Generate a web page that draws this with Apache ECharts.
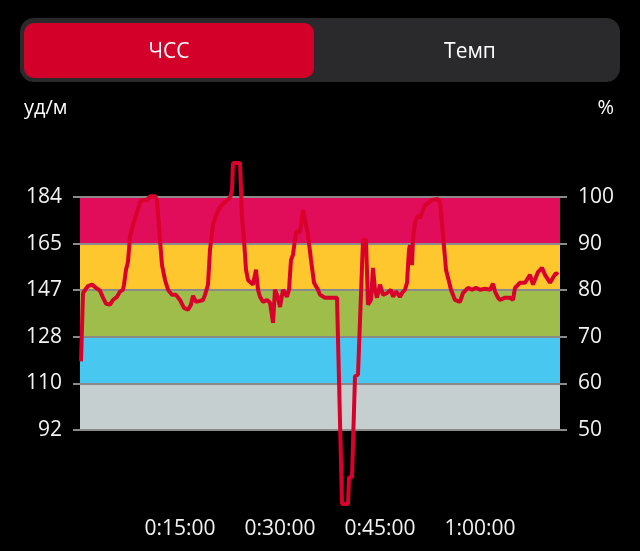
<!DOCTYPE html>
<html>
<head>
<meta charset="utf-8">
<script src="https://cdn.jsdelivr.net/npm/echarts@6/dist/echarts.min.js"></script>
<style>
html,body{margin:0;padding:0;background:#000;}
#c{width:640px;height:551px;}
</style>
</head>
<body>
<div id="c"></div>
<script>
// ---- data ----
const maxHR = 184;
const timeMin = [0.15,0.45,0.75,1.2,1.8,2.4,3.0,3.45,3.9,4.5,4.95,5.55,6.0,6.45,6.6,6.9,7.2,7.5,7.95,8.4,9.0,9.45,10.05,10.5,10.8,11.25,11.55,12.0,12.3,12.75,13.2,13.8,14.4,15.0,15.6,16.2,16.65,16.95,17.4,18.0,18.45,18.75,19.2,19.5,19.95,20.4,21.0,21.6,22.05,22.5,22.8,22.95,24.0,24.3,24.6,24.9,25.2,25.5,25.95,26.4,26.7,27.0,27.45,28.05,28.5,28.95,29.25,29.7,30.0,30.45,31.05,31.35,31.65,31.95,32.4,33.0,33.45,33.75,34.2,34.65,35.1,35.7,36.0,36.75,37.5,38.55,39.3,40.2,40.35,40.8,41.25,41.7,42.45,42.9,43.2,43.65,43.95,44.25,44.55,45.0,45.45,46.05,46.65,46.95,47.4,48.0,48.3,48.75,49.05,49.35,49.5,49.8,49.95,50.25,50.7,51.0,51.45,51.75,52.2,52.8,53.7,54.0,54.45,54.9,55.2,55.65,56.25,57.0,57.45,58.2,58.8,59.4,60.0,60.75,61.5,61.95,62.25,62.7,63.0,63.75,64.5,64.95,65.25,66.0,66.75,67.5,67.95,68.7,69.3,69.75,70.5,70.95,71.4,71.7];
const hrPercent = [64.7,79.4,79.7,80.9,81.2,80.5,79.9,78.4,77.1,76.9,77.9,78.6,79.7,80.1,81.2,84.4,86.1,91.6,94.0,96.1,98.9,99.4,99.4,100.2,100.6,100.2,99.4,90.8,85.4,82.2,80.1,79.0,79.0,77.9,76.2,75.8,76.9,78.8,77.5,77.7,77.9,79.0,81.2,88.7,94.0,96.1,97.9,98.7,99.4,99.8,101.5,107.3,107.3,95.7,90.8,84.4,82.2,81.8,81.2,84.4,80.1,78.6,77.5,77.9,77.3,73.0,80.1,78.4,76.4,80.1,78.6,80.1,86.5,87.6,92.5,92.5,97.2,97.2,91.9,86.5,81.6,80.1,79.0,78.4,78.4,78.4,34.1,34.1,39.8,39.8,61.5,61.9,90.8,90.8,76.9,77.9,84.8,80.1,78.4,81.2,79.0,79.4,80.1,78.6,79.7,78.6,79.4,80.1,81.6,88.7,89.7,85.4,90.8,94.6,96.1,95.5,97.2,98.3,98.7,99.4,99.6,98.9,91.9,84.4,82.7,80.1,77.9,77.5,79.4,80.5,80.1,80.5,80.1,80.3,80.1,81.4,79.7,78.4,77.9,78.4,78.4,77.9,80.5,81.6,81.6,83.3,81.2,83.9,84.8,83.3,81.6,82.7,83.7,83.3];
const zoneBounds = [50,60,70,80,90,100];
const bpmTickLabels = ['92','110','128','147','165','184'];
const pctTickLabels = ['50','60','70','80','90','100'];
const xTickMinutes = [15,30,45,60];
const tabLabels = ['ЧСС','Темп'];
const leftAxisName = 'уд/м';
const rightAxisName = '%';

// ---- styles ----
const zoneColors = ['#c6cfd0','#48c8f0','#9ebd4b','#fec72d','#e10c5a'];
const gridGray = '#8a8a8a';
const FONT = '"Open Sans", "Noto Sans", sans-serif';

function fmtTime(m){
  const h = Math.floor(m/60), mm = m%60;
  return h + ':' + String(mm).padStart(2,'0') + ':00';
}

const lineData = timeMin.map((t,i)=>[t,hrPercent[i]]);
const bands = [];
for(let i=0;i<zoneBounds.length-1;i++){
  bands.push([{yAxis:zoneBounds[i], itemStyle:{color:zoneColors[i], opacity:1}},{yAxis:zoneBounds[i+1]}]);
}

const chart = echarts.init(document.getElementById('c'), null, {renderer:'canvas'});
const yCommon = {
  type:'value', min:33, max:120,
  axisLine:{show:false},
  splitLine:{show:false},
  axisTick:{show:true, customValues:zoneBounds, length:7, inside:false, lineStyle:{color:gridGray, width:2}},
};
chart.setOption({
  backgroundColor:'#000',
  animation:false,
  grid:{left:80, right:80, top:104, bottom:42, containLabel:false},
  xAxis:{
    type:'value', min:0, max:72, interval:15,
    axisLine:{show:false}, axisTick:{show:false}, splitLine:{show:false},
    axisLabel:{
      color:'#f2f2f2', fontSize:21, fontFamily:FONT, margin:10,
      formatter:v=> xTickMinutes.indexOf(v)>=0 ? fmtTime(v) : ''
    }
  },
  yAxis:[
    Object.assign({}, yCommon, {
      position:'left',
      axisLabel:{customValues:zoneBounds, color:'#f2f2f2', fontSize:21, fontFamily:FONT, margin:18,
        formatter:v=> bpmTickLabels[zoneBounds.indexOf(Math.round(v))] || ''}
    }),
    Object.assign({}, yCommon, {
      position:'right',
      axisLabel:{customValues:zoneBounds, color:'#f2f2f2', fontSize:21, fontFamily:FONT, margin:18,
        formatter:v=> pctTickLabels[zoneBounds.indexOf(Math.round(v))] || ''}
    })
  ],
  graphic:[
    {type:'rect', shape:{x:20,y:18,width:600,height:64,r:14}, style:{fill:'#2a2a2c'}},
    {type:'rect', shape:{x:24,y:23,width:290,height:55,r:10}, style:{fill:'#d3002a'}},
    {type:'text', x:169, y:52, style:{text:tabLabels[0], fill:'#fff', font:'21px '+FONT, textAlign:'center', textVerticalAlign:'middle'}},
    {type:'text', x:470, y:52, style:{text:tabLabels[1], fill:'#fff', font:'21px '+FONT, textAlign:'center', textVerticalAlign:'middle'}},
    {type:'text', x:24, y:108, style:{text:leftAxisName, fill:'#fff', font:'20px '+FONT, textAlign:'left', textVerticalAlign:'middle'}},
    {type:'text', x:614, y:108, style:{text:rightAxisName, fill:'#fff', font:'20px '+FONT, textAlign:'right', textVerticalAlign:'middle'}}
  ],
  series:[
    {
      type:'line', data:[], z:1,
      markArea:{silent:true, z:1, data:bands}
    },
    {
      type:'line', data:[], z:2,
      markLine:{silent:true, z:2, symbol:['none','none'], label:{show:false},
        lineStyle:{color:gridGray, width:2, type:'solid'},
        data:zoneBounds.map(v=>({yAxis:v}))}
    },
    {
      type:'line', data:lineData, z:10, showSymbol:false, symbol:'none',
      lineStyle:{color:'#d9002b', width:4}, itemStyle:{color:'#d9002b'}
    }
  ]
});
</script>
</body>
</html>
